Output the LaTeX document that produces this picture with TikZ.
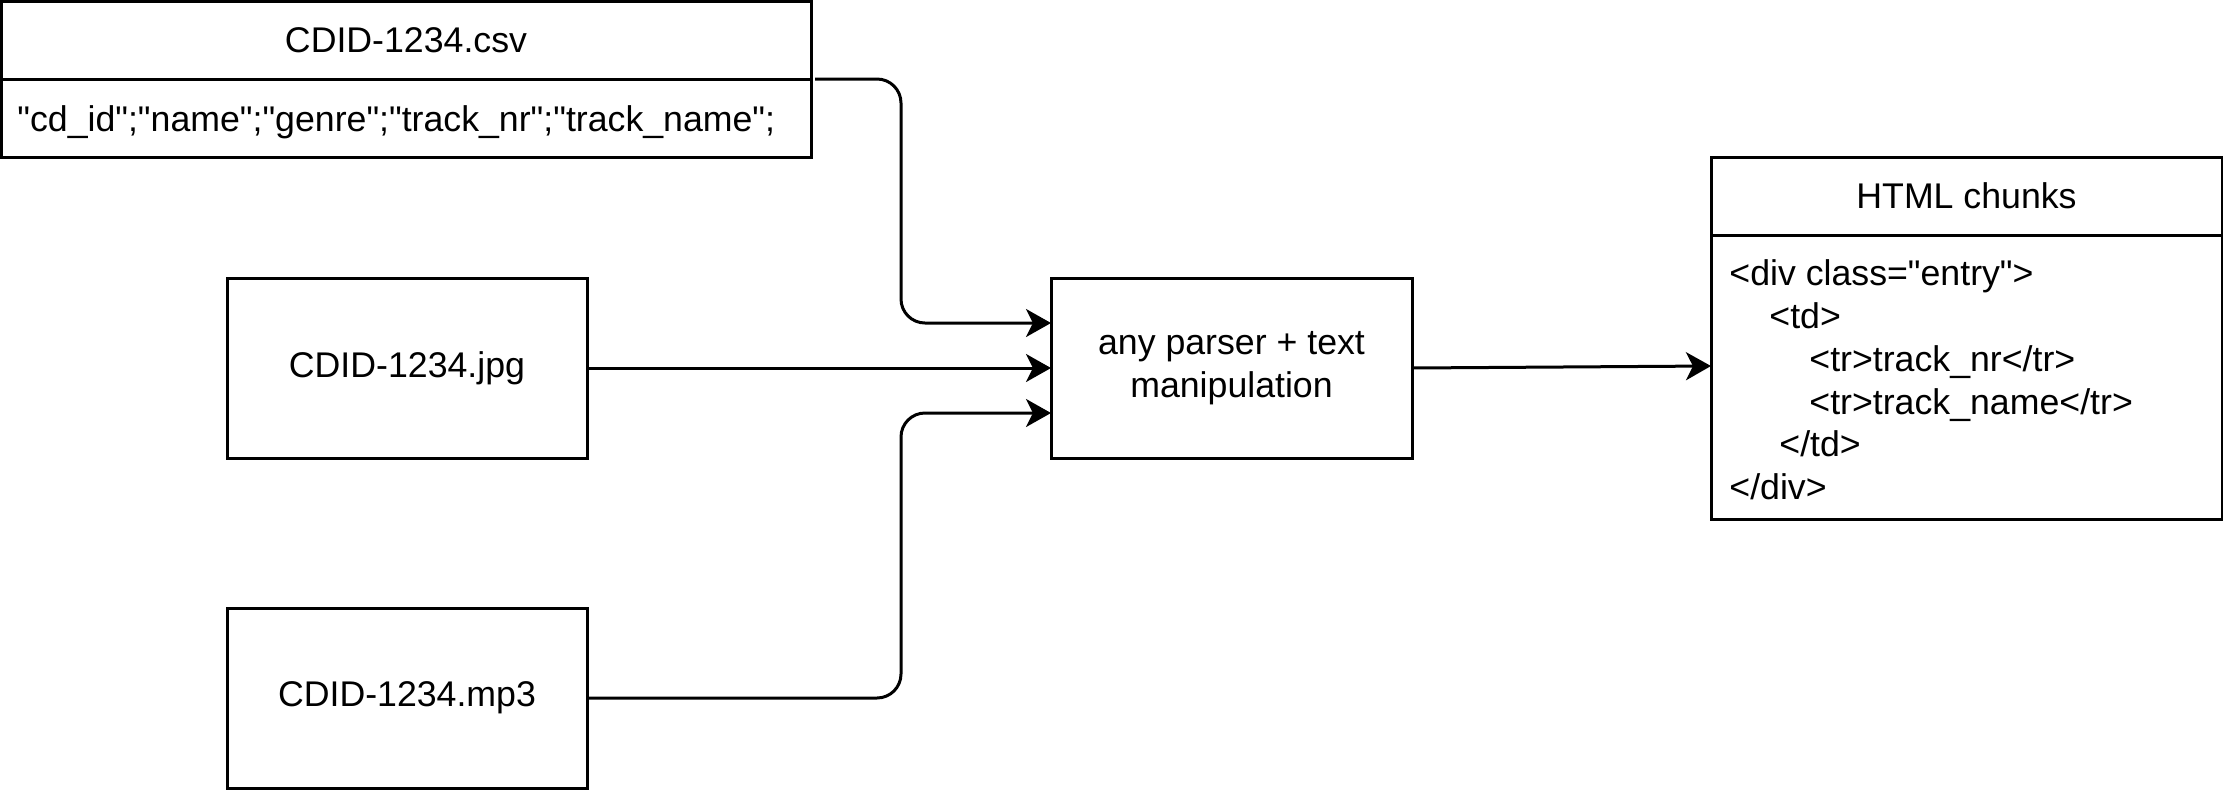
\documentclass[tikz,border=0pt]{standalone}
\usepackage{fontspec}
\setmainfont{Liberation Sans}[Ligatures=TeXOff]
\usetikzlibrary{arrows.meta}
\begin{document}
\begin{tikzpicture}[x=0.5pt,y=-0.5pt,
  every node/.style={font=\fontsize{17.85pt}{21.4pt}\selectfont},
  box/.style={draw,line width=1.5pt,inner sep=0pt,outer sep=0pt},
  conn/.style={line width=1.5pt,rounded corners=12pt,-{Stealth[length=12.5pt,width=14pt,inset=3.5pt]}}]
\useasboundingbox (0,0) rectangle (2223,789);
% CSV table
\node[box,minimum width=405pt,minimum height=39pt] (csvhead) at (406,40) {CDID-1234.csv};
\node[box,minimum width=405pt,minimum height=39pt] (csvrow) at (406,118) {};
\node[anchor=base west,inner sep=0pt] (csvtext) at (17,131) {"cd\_id";"name";"genre";"track\_nr";"track\_name";};
% inputs
\node[box,minimum width=180pt,minimum height=90pt] (jpg) at (407,368) {CDID-1234.jpg};
\node[box,minimum width=180pt,minimum height=90pt] (mp3) at (407,698) {CDID-1234.mp3};
% parser
\node[box,minimum width=180.5pt,minimum height=90pt,align=center] (parser) at (1231.5,368) {any parser + text\\manipulation};
% HTML
\node[box,minimum width=255.5pt,minimum height=39pt] (htmlhead) at (1966.5,196) {HTML chunks};
\node[box,minimum width=255.5pt,minimum height=142pt] (htmlbody) at (1966.5,377) {};
\node[anchor=west,align=left,inner sep=0pt] (htmltext) at (1729,380) {<div class="entry">\\
\hspace*{20pt}<td>\\
\hspace*{40pt}<tr>track\_nr</tr>\\
\hspace*{40pt}<tr>track\_name</tr>\\
\hspace*{25pt}</td>\\
</div>};
% connectors
\draw[conn] ([xshift=2pt]csvrow.north east) -| ([xshift=-75pt,yshift=22.5pt]parser.west) -- ([yshift=22.5pt]parser.west);
\draw[conn] (jpg.east) -- (parser.west);
\draw[conn] (mp3.east) -| ([xshift=-75pt,yshift=-22.5pt]parser.west) -- ([yshift=-22.5pt]parser.west);
\draw[conn] (parser.east) -- ([yshift=5.5pt]htmlbody.west);
\end{tikzpicture}
\end{document}
